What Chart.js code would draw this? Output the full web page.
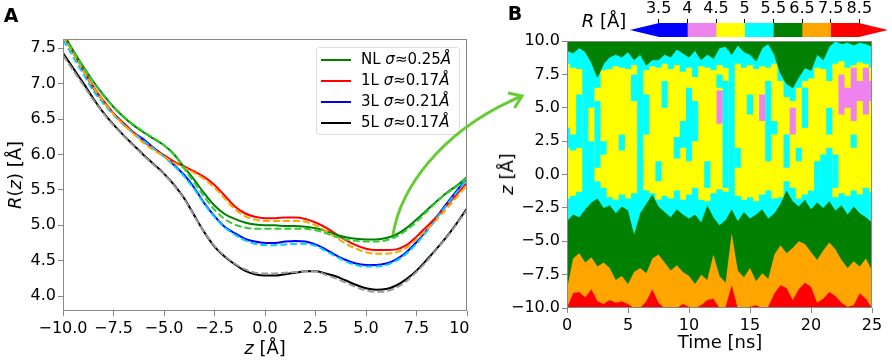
<!DOCTYPE html>
<html>
<head>
<meta charset="utf-8">
<script src="https://cdn.jsdelivr.net/npm/chart.js@4"></script>
<style>
  body { margin: 0; background: #fff; font-family: "DejaVu Sans", sans-serif; }
  #fig { position: relative; width: 892px; height: 360px; overflow: hidden; background: #fff; }
  canvas { position: absolute; top: 0; }
  #left { left: 0; }
  #right { left: 470px; background: #fff; }
  #cbar { left: 560px; }
  .c { position: absolute; transform: translate(-50%, -50%); white-space: nowrap; line-height: 1; color: #000; }
  .rot { transform: translate(-50%, -50%) rotate(-90deg); }
  .panel { font-weight: bold; font-size: 19px; }
  .title { font-size: 18px; }
  #legend { position: absolute; left: 316px; top: 47px; width: 144px; height: 88px; box-sizing: border-box;
            border: 1px solid #ddd; border-radius: 3px; background: rgba(255,255,255,0.85); }
  #legend .row { position: absolute; left: 0; height: 21px; line-height: 21px; font-size: 15px; white-space: nowrap; }
  #legend .sw { position: absolute; left: 4px; top: 10px; width: 30px; border-top: 2px solid; }
  #legend .tx { position: absolute; left: 44px; top: 0; }
</style>
</head>
<body>
<div id="fig">
  <canvas id="left" width="500" height="360"></canvas>
  <canvas id="right" width="422" height="360"></canvas>
  <canvas id="cbar" width="332" height="45"></canvas>

  <div class="c panel" style="left:11px;top:15px">A</div>
  <div class="c panel" style="left:515px;top:13px">B</div>
  <div class="c title rot" style="left:15px;top:175px"><i>R</i>(<i>z</i>) [Å]</div>
  <div class="c title" style="left:265px;top:348px"><i>z</i> [Å]</div>
  <div class="c title rot" style="left:507px;top:174px"><i>z</i> [Å]</div>
  <div class="c title" style="left:720px;top:342px">Time [ns]</div>
  <div class="c title" style="left:604px;top:21px"><i>R</i> [Å]</div>
  <div id="legend"></div>

  <svg width="892" height="360" style="position:absolute;left:0;top:0;pointer-events:none">
    <path d="M393,235 C400,190 440,130 522,96" fill="none" stroke="#66cc33" stroke-width="3"/>
    <path d="M508,93 L522,96 L514.5,108" fill="none" stroke="#66cc33" stroke-width="3"/>
  </svg>
</div>

<script>
// ---- panel A: R(z) profiles ----
const zPos = [-10, -9.5, -9, -8.5, -8, -7.5, -7, -6.5, -6, -5.5, -5, -4.5, -4, -3.5, -3, -2.5, -2, -1.5, -1, -0.5,
  0, 0.5, 1, 1.5, 2, 2.5, 3, 3.5, 4, 4.5, 5, 5.5, 6, 6.5, 7, 7.5, 8, 8.5, 9, 9.5, 10];

const rNL = [7.72, 7.47, 7.24, 7.03, 6.84, 6.67, 6.53, 6.41, 6.31, 6.22, 6.13, 6.00, 5.82, 5.64, 5.45, 5.28, 5.16, 5.09, 5.04, 5.01,
  5.00, 5.00, 4.99, 4.99, 4.98, 4.96, 4.92, 4.87, 4.83, 4.81, 4.80, 4.80, 4.82, 4.87, 4.96, 5.08, 5.21, 5.34, 5.46, 5.56, 5.68];
const rNLfit = [7.70, 7.46, 7.23, 7.02, 6.83, 6.67, 6.54, 6.42, 6.32, 6.23, 6.13, 6.00, 5.80, 5.60, 5.40, 5.22, 5.09, 5.01, 4.97, 4.95,
  4.95, 4.95, 4.95, 4.95, 4.95, 4.93, 4.89, 4.84, 4.80, 4.78, 4.77, 4.77, 4.79, 4.84, 4.93, 5.05, 5.19, 5.33, 5.45, 5.55, 5.67];
const r1L = [7.70, 7.44, 7.20, 6.96, 6.76, 6.58, 6.44, 6.31, 6.18, 6.08, 5.99, 5.90, 5.83, 5.76, 5.68, 5.57, 5.42, 5.27, 5.17, 5.12,
  5.10, 5.10, 5.11, 5.11, 5.09, 5.04, 4.97, 4.88, 4.79, 4.72, 4.67, 4.65, 4.65, 4.66, 4.72, 4.84, 4.98, 5.12, 5.28, 5.44, 5.60];
const r1Lfit = [7.68, 7.43, 7.19, 6.95, 6.75, 6.57, 6.42, 6.29, 6.16, 6.06, 5.97, 5.88, 5.81, 5.74, 5.65, 5.53, 5.38, 5.23, 5.13, 5.08,
  5.06, 5.06, 5.06, 5.06, 5.05, 5.00, 4.92, 4.83, 4.74, 4.67, 4.62, 4.60, 4.60, 4.62, 4.68, 4.80, 4.94, 5.08, 5.24, 5.40, 5.57];
const r3L = [7.70, 7.45, 7.19, 6.94, 6.75, 6.58, 6.44, 6.31, 6.21, 6.09, 5.98, 5.85, 5.71, 5.53, 5.31, 5.13, 4.98, 4.89, 4.81, 4.77,
  4.75, 4.75, 4.77, 4.78, 4.77, 4.73, 4.66, 4.58, 4.51, 4.46, 4.44, 4.44, 4.46, 4.52, 4.62, 4.76, 4.93, 5.12, 5.31, 5.49, 5.67];
const r3Lfit = [7.62, 7.38, 7.14, 6.90, 6.72, 6.56, 6.42, 6.30, 6.19, 6.08, 5.97, 5.84, 5.69, 5.51, 5.30, 5.12, 4.97, 4.87, 4.79, 4.74,
  4.72, 4.72, 4.73, 4.74, 4.74, 4.71, 4.64, 4.56, 4.49, 4.44, 4.42, 4.42, 4.44, 4.50, 4.60, 4.74, 4.91, 5.10, 5.29, 5.47, 5.65];
const r5L = [7.43, 7.22, 7.01, 6.79, 6.59, 6.42, 6.27, 6.13, 5.99, 5.86, 5.73, 5.57, 5.38, 5.14, 4.90, 4.70, 4.56, 4.45, 4.36, 4.31,
  4.29, 4.29, 4.31, 4.33, 4.35, 4.35, 4.32, 4.28, 4.22, 4.16, 4.11, 4.09, 4.10, 4.15, 4.24, 4.36, 4.51, 4.67, 4.84, 5.03, 5.24];
const r5Lfit = [7.40, 7.19, 6.98, 6.77, 6.58, 6.41, 6.26, 6.12, 5.98, 5.85, 5.72, 5.56, 5.37, 5.13, 4.90, 4.71, 4.57, 4.46, 4.38, 4.33,
  4.32, 4.32, 4.33, 4.34, 4.35, 4.35, 4.30, 4.25, 4.19, 4.13, 4.08, 4.06, 4.07, 4.12, 4.21, 4.34, 4.49, 4.66, 4.83, 5.02, 5.22];

const seriesNames = ["NL", "1L", "3L", "5L"];
const sigmas = ["0.25", "0.17", "0.21", "0.17"];
const lineColors = ["#008000", "#ff0000", "#0000ff", "#000000"];
const fitColors = ["#33cc33", "#ffa500", "#00ccff", "#999999"];

const zTicks = [-10, -7.5, -5, -2.5, 0, 2.5, 5, 7.5, 10];
const rTicks = [4.0, 4.5, 5.0, 5.5, 6.0, 6.5, 7.0, 7.5];

// ---- panel B: R(z, t) bands ----
const time = [0, 0.5, 1, 1.5, 2, 2.5, 3, 3.5, 4, 4.5, 5, 5.5, 6, 6.5, 7, 7.5, 8, 8.5, 9, 9.5,
  10, 10.5, 11, 11.5, 12, 12.5, 13, 13.5, 14, 14.5, 15, 15.5, 16, 16.5, 17, 17.5, 18, 18.5, 19, 19.5,
  20, 20.5, 21, 21.5, 22, 22.5, 23, 23.5, 24, 24.5, 25];

const redTop = [-10, -8.9, -8.8, -9.2, -8.6, -9.5, -9.7, -9.4, -9.6, -9.5,
  -9.7, -10, -10, -9.5, -8.6, -9.6, -10, -9.9, -10, -9.7,
  -9.9, -10, -9.8, -9.4, -9.3, -10, -9.9, -8.3, -10, -10,
  -9.9, -9.8, -10, -9.9, -8.9, -8.3, -8.5, -9.4, -8.6, -8.1,
  -8.4, -9.6, -9.3, -8.8, -9.1, -9.6, -9.9, -9.8, -8.9, -9.3, -10];
const orangeTop = [-8.6, -6.3, -5.9, -6.6, -6.2, -6.9, -6.6, -7.0, -7.9, -7.6,
  -8.2, -7.3, -7.0, -7.4, -6.3, -6.0, -6.6, -7.2, -6.8, -7.3,
  -7.6, -8.2, -7.5, -7.9, -6.0, -7.6, -8.1, -4.4, -7.2, -7.7,
  -7.0, -8.0, -7.4, -7.8, -6.0, -5.3, -5.9, -5.5, -5.0, -5.2,
  -5.8, -6.4, -5.7, -5.1, -5.6, -6.4, -7.0, -6.5, -6.9, -6.3, -7.2];
const greenLowTop = [-3.5, -3.0, -3.2, -2.6, -2.1, -1.8, -2.5, -2.3, -2.9, -2.4,
  -2.7, -4.5, -2.9, -2.2, -1.5, -2.4, -2.8, -3.2, -2.6, -3.0,
  -3.3, -3.0, -3.6, -2.3, -3.2, -3.8, -3.4, -2.6, -3.5, -2.8,
  -3.3, -3.0, -2.6, -3.3, -2.9, -2.2, -1.2, -2.0, -2.4, -1.9,
  -2.6, -2.1, -2.5, -2.0, -2.7, -2.3, -3.0, -2.4, -2.9, -3.2, -3.6];
const yellowLow = [-1.8, -1.6, -1.3, 3.0, 2.5, -0.5, -1.0, -1.7, -1.9, -1.5,
  -1.8, -1.4, 3.0, -1.2, -1.4, -1.9, -1.6, -1.8, -1.2, -1.9,
  -1.5, -1.0, -1.9, -2.0, -1.4, -1.1, -1.3, 3.0, -1.6, -1.9,
  -1.7, -2.0, -1.5, -1.2, -1.8, -1.7, -0.5, -1.0, -1.8, -1.5,
  -1.2, -0.8, 1.5, 2.0, -1.7, -1.4, -1.6, -1.2, -1.5, -1.0, -1.3];
const yellowHigh = [8.3, 8.0, 7.9, 3.0, 5.0, 6.5, 7.8, 7.9, 8.1, 8.0,
  7.9, 8.2, 3.0, 7.8, 8.1, 8.0, 8.3, 7.9, 8.2, 7.7,
  8.0, 7.3, 8.1, 8.0, 7.8, 8.2, 8.0, 3.0, 8.3, 8.0,
  8.2, 7.9, 8.1, 8.0, 8.3, 7.0, 5.8, 5.5, 6.5, 7.0,
  7.2, 8.0, 7.9, 7.0, 8.3, 8.5, 8.0, 8.2, 8.4, 8.3, 8.0];
const cyanGapLow = [2.0, 1.8, 2.0, 3.0, 3.5, 0.5, 1.5, 3.0, 3.0, 1.8,
  3.0, 5.5, 3.0, 3.0, 4.5, -0.5, 5.0, 4.0, 1.2, 2.0,
  1.0, 2.5, 3.0, -1.0, 2.0, 6.5, -1.0, 3.0, 0.5, 2.0,
  4.5, 5.0, 4.0, 1.0, 3.0, 3.0, 0.5, 2.0, 1.0, 3.5,
  3.0, -0.8, 4.0, 3.0, -1.0, 2.0, 3.0, 2.0, 3.0, 3.0, 3.0];
const cyanGapHigh = [3.5, 3.0, 6.0, 3.0, 3.5, 5.5, 2.5, 3.0, 3.0, 3.0,
  3.0, 7.5, 3.0, 6.0, 4.5, 1.0, 7.0, 4.0, 2.8, 4.0,
  6.5, 5.5, 3.0, 1.0, 2.0, 7.5, 7.0, 3.0, 2.0, 2.0,
  6.0, 5.0, 4.0, 7.0, 4.0, 3.0, 3.0, 2.0, 2.0, 6.5,
  3.0, 1.0, 4.0, 5.0, 1.5, 2.0, 3.0, 3.0, 3.0, 3.0, 3.0];
const violetLow = [5, 5, 5, 5, 5, 5, 5, 5, 5, 5,
  5, 5, 5, 5, 5, 5, 5, 5, 5, 5,
  5, 5, 5, 5, 5, 3.8, 5, 5, 5, 5,
  5, 5, 4.0, 5, 5, 5, 5, 3.0, 5, 5,
  5, 5, 5, 5, 5, 4.5, 5.0, 4.0, 5.5, 4.5, 5.5];
const violetHigh = [5, 5, 5, 5, 5, 5, 5, 5, 5, 5,
  5, 5, 5, 5, 5, 5, 5, 5, 5, 5,
  5, 5, 5, 5, 5, 6.3, 5, 5, 5, 5,
  5, 5, 6.0, 5, 5, 5, 5, 5.0, 5, 5,
  5, 5, 5, 5, 5, 7.5, 6.5, 8.0, 7.0, 8.0, 7.0];
const greenHighBottom = [9.3, 9.1, 9.5, 9.2, 8.4, 7.3, 8.3, 8.8, 9.0, 8.8,
  9.2, 8.6, 9.0, 8.2, 8.6, 8.6, 9.0, 8.8, 9.4, 9.1,
  8.8, 9.3, 8.6, 9.0, 8.7, 9.5, 9.6, 9.0, 9.7, 9.2,
  9.0, 8.5, 9.5, 9.8, 9.0, 7.6, 6.8, 6.5, 7.3, 8.0,
  7.8, 9.0, 8.6, 9.6, 10, 9.8, 9.9, 9.7, 9.9, 9.8, 9.6];

const timeTicks = [0, 5, 10, 15, 20, 25];
const zTicksB = [-10, -7.5, -5, -2.5, 0, 2.5, 5, 7.5, 10];

// colorbar levels
const levels = [3.5, 4, 4.5, 5, 5.5, 6.5, 7.5, 8.5];
const levelColors = ["#0000ff", "#ee82ee", "#ffff00", "#00ffff", "#008000", "#ffa500", "#ff0000"];

Chart.defaults.font.family = "'DejaVu Sans', sans-serif";
Chart.defaults.font.size = 16;
Chart.defaults.color = "#000";

const axisColor = "#888";
const fmt = (v, d) => (v < 0 ? "\u2212" : "") + Math.abs(v).toFixed(d);

function frame(color) {
  return {
    id: "frame",
    afterDatasetsDraw(chart) {
      const { ctx, chartArea: a } = chart;
      ctx.save();
      ctx.strokeStyle = color;
      ctx.lineWidth = 1;
      ctx.strokeRect(a.left + 0.5, a.top + 0.5, a.right - a.left - 1, a.bottom - a.top - 1);
      ctx.restore();
    },
  };
}

// left chart
const toXY = (xs, ys) => xs.map((x, i) => ({ x: x, y: ys[i] }));
const solid = [rNL, r1L, r3L, r5L];
const fits = [rNLfit, r1Lfit, r3Lfit, r5Lfit];
const leftSets = [];
solid.forEach((s, i) => {
  leftSets.push({ label: seriesNames[i], data: toXY(zPos, s), borderColor: lineColors[i], borderWidth: 2,
    pointRadius: 0, cubicInterpolationMode: "monotone", order: 2 });
});
fits.forEach((s, i) => {
  leftSets.push({ label: seriesNames[i] + " fit", data: toXY(zPos, s), borderColor: fitColors[i], borderWidth: 2,
    borderDash: [7, 3], pointRadius: 0, cubicInterpolationMode: "monotone", order: 1 });
});

new Chart(document.getElementById("left"), {
  type: "line",
  data: { datasets: leftSets },
  options: {
    responsive: false, animation: false, events: [],
    layout: { padding: { top: 39, right: 33, bottom: 0, left: 0 } },
    plugins: { legend: { display: false }, tooltip: { enabled: false } },
    scales: {
      x: {
        type: "linear", min: -10, max: 10,
        afterBuildTicks: (s) => { s.ticks = zTicks.map((v) => ({ value: v })); },
        afterFit: (s) => { s.height = 49; },
        ticks: { callback: (v) => fmt(v, 1), maxRotation: 0, autoSkip: false, padding: 3 },
        grid: { drawOnChartArea: false, tickLength: 5, color: axisColor },
        border: { display: false },
      },
      y: {
        min: 3.79, max: 7.63,
        afterBuildTicks: (s) => { s.ticks = rTicks.map((v) => ({ value: v })); },
        afterFit: (s) => { s.width = 63; },
        ticks: { callback: (v) => fmt(v, 1), padding: 2 },
        grid: { drawOnChartArea: false, tickLength: 5, color: axisColor },
        border: { display: false },
      },
    },
  },
  plugins: [frame(axisColor)],
});

// legend (HTML, inside panel A)
const legend = document.getElementById("legend");
seriesNames.forEach((name, i) => {
  const row = document.createElement("div");
  row.className = "row";
  row.style.top = (0.5 + 21.3 * i) + "px";
  row.innerHTML = '<span class="sw" style="border-color:' + lineColors[i] + '"></span>' +
    '<span class="tx">' + name + ' <i>\u03c3</i>\u2248' + sigmas[i] + '<i>\u00c5</i></span>';
  legend.appendChild(row);
});

// right chart: filled R bands
const bandSet = (arr, color, fill, order, edge, stepped) => ({
  data: toXY(time, arr), backgroundColor: color, fill: fill, order: order,
  borderColor: edge || "rgba(0,0,0,0)", borderWidth: edge ? 1 : 0, pointRadius: 0, tension: 0,
  stepped: stepped ? "middle" : false,
});
const rightSets = [
  bandSet(greenHighBottom, levelColors[3], "start", 10),                 // 0 cyan base
  bandSet(yellowLow, "rgba(0,0,0,0)", false, 9, null, true),              // 1
  bandSet(yellowHigh, levelColors[2], 1, 9, null, true),                  // 2 yellow
  bandSet(cyanGapLow, "rgba(0,0,0,0)", false, 8, null, true),             // 3
  bandSet(cyanGapHigh, levelColors[3], 3, 8, null, true),                 // 4 cyan streaks
  bandSet(violetLow, "rgba(0,0,0,0)", false, 7, null, true),              // 5
  bandSet(violetHigh, levelColors[1], 5, 7, null, true),                  // 6 violet
  bandSet(greenHighBottom, levelColors[4], "end", 6, levelColors[4]),     // 7 upper green
  bandSet(greenLowTop, levelColors[4], "start", 5),                       // 8 lower green
  bandSet(orangeTop, levelColors[5], "start", 4),                         // 9 orange
  bandSet(redTop, levelColors[6], "start", 3),                            // 10 red
];

new Chart(document.getElementById("right"), {
  type: "line",
  data: { datasets: rightSets },
  options: {
    responsive: false, animation: false, events: [],
    layout: { padding: { top: 41, right: 20, bottom: 0, left: 0 } },
    plugins: { legend: { display: false }, tooltip: { enabled: false }, filler: { drawTime: "beforeDatasetDraw" } },
    scales: {
      x: {
        type: "linear", min: 0, max: 25,
        afterBuildTicks: (s) => { s.ticks = timeTicks.map((v) => ({ value: v })); },
        afterFit: (s) => { s.height = 52; },
        ticks: { callback: (v) => String(v), maxRotation: 0, autoSkip: false, padding: 3 },
        grid: { drawOnChartArea: false, tickLength: 5, color: axisColor },
        border: { display: false },
      },
      y: {
        min: -10, max: 10,
        afterBuildTicks: (s) => { s.ticks = zTicksB.map((v) => ({ value: v })); },
        afterFit: (s) => { s.width = 97; },
        ticks: { callback: (v) => fmt(v, 1), padding: 2 },
        grid: { drawOnChartArea: false, tickLength: 5, color: axisColor },
        border: { display: false },
      },
    },
  },
  plugins: [frame(axisColor)],
});

// colorbar
const extendTips = {
  id: "extendTips",
  afterDatasetsDraw(chart) {
    const { ctx, chartArea: a, scales } = chart;
    const x = scales.x;
    const mid = (a.top + a.bottom) / 2;
    ctx.save();
    ctx.fillStyle = levelColors[0];
    ctx.beginPath();
    ctx.moveTo(x.getPixelForValue(-1), mid);
    ctx.lineTo(x.getPixelForValue(0) + 0.5, a.top);
    ctx.lineTo(x.getPixelForValue(0) + 0.5, a.bottom);
    ctx.closePath();
    ctx.fill();
    ctx.fillStyle = levelColors[levelColors.length - 1];
    ctx.beginPath();
    ctx.moveTo(x.getPixelForValue(8), mid);
    ctx.lineTo(x.getPixelForValue(7) - 0.5, a.top);
    ctx.lineTo(x.getPixelForValue(7) - 0.5, a.bottom);
    ctx.closePath();
    ctx.fill();
    ctx.restore();
  },
};

new Chart(document.getElementById("cbar"), {
  type: "bar",
  data: {
    labels: ["R"],
    datasets: levelColors.map((c, i) => ({
      data: [[i, i + 1]], backgroundColor: c, borderWidth: 0, grouped: false,
      barPercentage: 1, categoryPercentage: 1,
    })),
  },
  options: {
    indexAxis: "y", responsive: false, animation: false, events: [],
    layout: { padding: { top: 0, right: 4, bottom: 8, left: 70 } },
    plugins: { legend: { display: false }, tooltip: { enabled: false } },
    scales: {
      y: { display: false },
      x: {
        type: "linear", position: "top", min: -1, max: 8,
        afterBuildTicks: (s) => { s.ticks = levels.map((v, i) => ({ value: i })); },
        afterFit: (s) => { s.height = 23; },
        ticks: { callback: (v) => String(levels[v]), maxRotation: 0, autoSkip: false, padding: 1 },
        grid: { drawOnChartArea: false, tickLength: 4, color: "#000" },
        border: { display: false },
      },
    },
  },
  plugins: [extendTips],
});
</script>
</body>
</html>
